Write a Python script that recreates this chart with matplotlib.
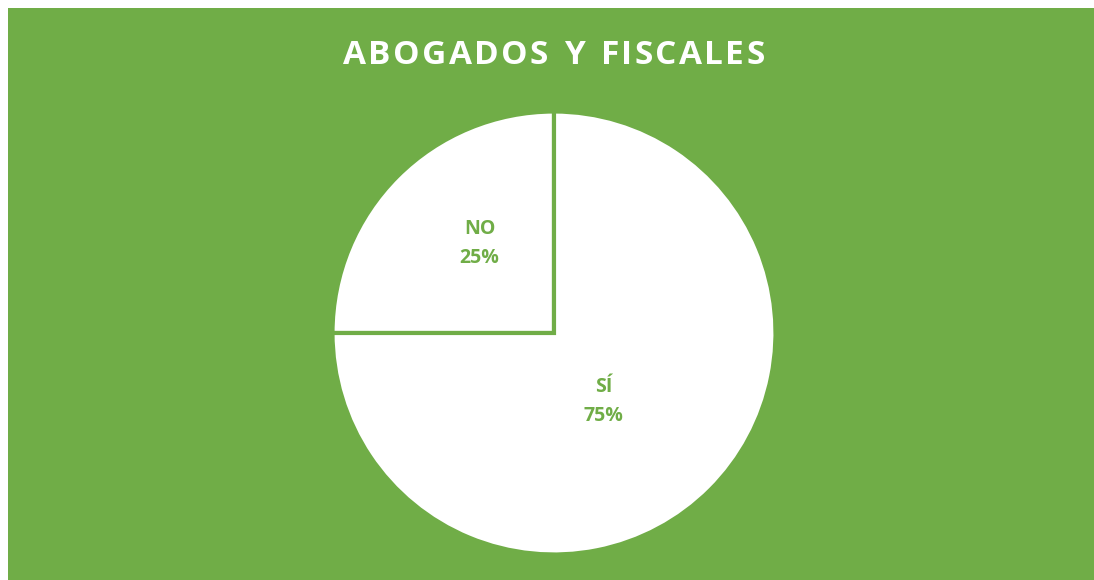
import matplotlib
matplotlib.use("Agg")
import matplotlib.pyplot as plt
from matplotlib.patches import Rectangle

title = "ABOGADOS Y FISCALES"
categories = ["NO", "SÍ"]
values = [25, 75]

GREEN = "#70AD47"
W, H = 1094, 580
fig = plt.figure(figsize=(W / 100, H / 100), dpi=100)
fig.patch.set_facecolor("white")
fig.patches.append(Rectangle((8 / W, 0), 1 - 8 / W, 1 - 8 / H, transform=fig.transFigure,
                             facecolor=GREEN, edgecolor="none", zorder=-10))

cx, cy, r = 554, 333, 221.5
ax = fig.add_axes([(cx - r) / W, (H - cy - r) / H, 2 * r / W, 2 * r / H])
ax.set_zorder(5)
ax.set_facecolor("none")
wedges, _ = ax.pie(values, startangle=90, counterclock=True, colors=["white", "white"],
                   wedgeprops=dict(edgecolor=GREEN, linewidth=3, joinstyle="miter"))
ax.set_xlim(-1, 1)
ax.set_ylim(-1, 1)
ax.set_aspect("equal")
ax.axis("off")

label_pos = [(-0.336, 0.405), (0.223, -0.31)]
for cat, val, (lx, ly) in zip(categories, values, label_pos):
    ax.text(lx, ly, f"{cat}\n{val}%", ha="center", va="center", color=GREEN,
            fontsize=14, fontweight="bold", family="Open Sans", linespacing=1.6)

# title with letter spacing
fig.canvas.draw()
renderer = fig.canvas.get_renderer()
fs = 24
spacing = 2.3  # px
widths = []
for ch in title:
    t = fig.text(0, 0, ch if ch != " " else "I", fontsize=fs, fontweight="bold", family="Open Sans")
    bb = t.get_window_extent(renderer)
    widths.append(bb.width if ch != " " else bb.width * 1.0)
    t.remove()
total = sum(widths) + spacing * (len(title) - 1)
x = 554 - total / 2
for ch, w in zip(title, widths):
    if ch != " ":
        fig.text(x / W, 1 - 55 / H, ch, fontsize=fs, fontweight="bold", family="Open Sans",
                 color="white", ha="left", va="center", zorder=5)
    x += w + spacing

fig.savefig("out.png", dpi=100, facecolor=fig.get_facecolor())
